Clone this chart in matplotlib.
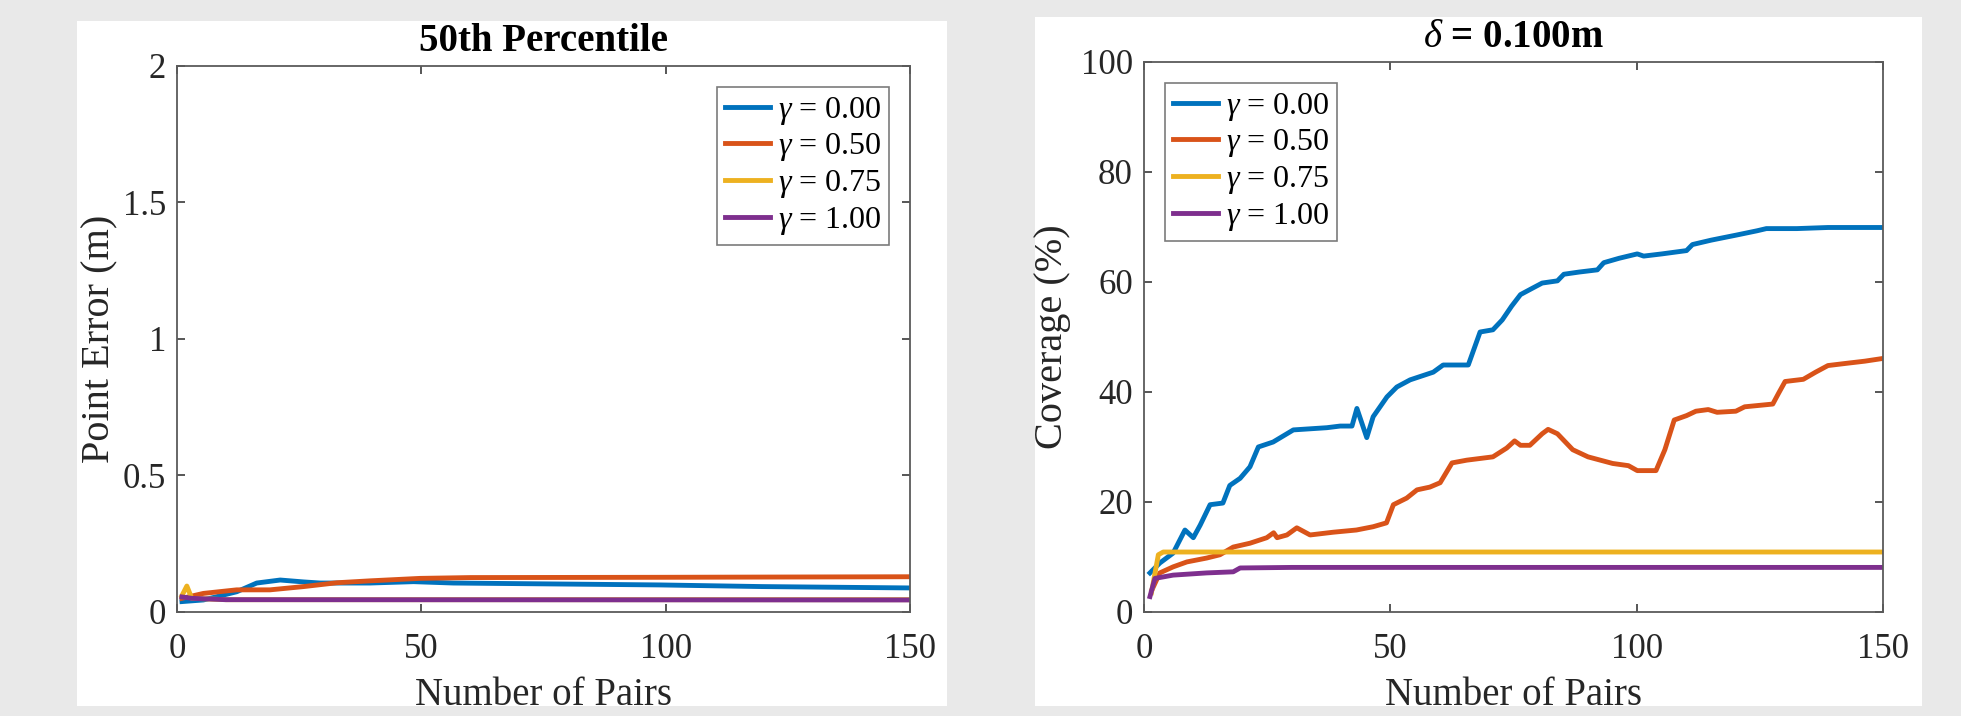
"""
Point error and coverage vs number of pairs, two panels.
"""

import matplotlib
matplotlib.use('Agg')
import matplotlib.pyplot as plt
from matplotlib.patches import Rectangle

# style
plt.rcParams['font.family'] = ['Liberation Serif', 'DejaVu Serif']
plt.rcParams['mathtext.fontset'] = 'custom'
plt.rcParams['mathtext.rm'] = 'Liberation Serif'
plt.rcParams['mathtext.it'] = 'Liberation Serif:italic'

COLORS = ['#0072BD', '#D95319', '#EDB120', '#7E2F8E']
LABELS = [r'$\gamma$ = 0.00', r'$\gamma$ = 0.50', r'$\gamma$ = 0.75', r'$\gamma$ = 1.00']
LW = 3.5

# left panel: 50th percentile point error (m)
err_x0 = [1, 5.4, 12.2, 16.3, 21.1, 25.9, 29.3, 39.5, 48.4, 56.5, 98.8, 119.7, 150]
err_y0 = [0.038, 0.044, 0.074, 0.106, 0.117, 0.110, 0.106, 0.106, 0.111, 0.106, 0.099, 0.093, 0.088]
err_x1 = [1, 5.4, 12.2, 19, 25.9, 32.7, 39.5, 49.7, 60, 98.8, 150]
err_y1 = [0.050, 0.068, 0.081, 0.081, 0.093, 0.107, 0.114, 0.123, 0.126, 0.127, 0.129]
err_x2 = [1, 2, 3, 10, 150]
err_y2 = [0.060, 0.095, 0.050, 0.045, 0.045]
err_x3 = [1, 3, 10, 150]
err_y3 = [0.055, 0.050, 0.045, 0.044]

# right panel: coverage (%) for delta = 0.100m
cov_x0 = [1.2, 3.2, 5.9, 8.3, 10, 11.4, 13.4, 16, 17.4, 19.5, 21.5, 23.2, 26.2, 30.3,
          37.1, 39.8, 42.2, 43.2, 45.2, 46.5, 49.3, 51.3, 54, 58.7, 60.7, 65.8, 68.2,
          70.8, 72.7, 74.6, 76.4, 78.9, 80.8, 83.9, 85.2, 88.3, 92, 93.3, 96.4, 100.1,
          101.4, 105.1, 110.1, 111.3, 115.1, 120.1, 124.4, 126.3, 132.5, 138.8, 150]
cov_y0 = [7.1, 8.9, 10.7, 14.9, 13.5, 15.8, 19.5, 19.8, 23.0, 24.3, 26.4, 30.0, 30.9, 33.1,
          33.5, 33.8, 33.8, 37.0, 31.7, 35.5, 39.1, 40.9, 42.2, 43.6, 44.9, 44.9, 50.9,
          51.3, 53.1, 55.6, 57.7, 58.9, 59.8, 60.2, 61.4, 61.8, 62.2, 63.5, 64.3, 65.1,
          64.7, 65.1, 65.7, 66.8, 67.6, 68.5, 69.3, 69.7, 69.7, 69.9, 69.9]
cov_x1 = [1.6, 3.2, 5.9, 8.7, 12.7, 15.4, 18.1, 21.5, 24.9, 26.3, 27, 29, 31, 33.7, 38.4,
          43.1, 46.5, 49.2, 50.6, 53.3, 55.4, 58, 60.1, 62.5, 65.5, 70.8, 73.6, 75.2,
          76.4, 78.3, 80.8, 82, 83.9, 87, 90.1, 95.1, 98.3, 100.1, 103.9, 105.7, 107.6,
          110.1, 112, 114.5, 116.3, 120.1, 121.9, 127.6, 128.8, 130.1, 133.8, 136.3,
          138.8, 142.5, 146.3, 150]
cov_y1 = [4.0, 7.1, 8.2, 9.1, 9.8, 10.4, 11.8, 12.5, 13.5, 14.4, 13.5, 14.0, 15.3, 14.0, 14.5,
          14.9, 15.5, 16.2, 19.5, 20.7, 22.2, 22.7, 23.5, 27.1, 27.6, 28.2, 29.8, 31.1,
          30.3, 30.3, 32.4, 33.2, 32.4, 29.5, 28.2, 27.0, 26.6, 25.7, 25.7, 29.5, 34.9,
          35.7, 36.5, 36.8, 36.3, 36.5, 37.3, 37.8, 39.8, 41.9, 42.3, 43.6, 44.8, 45.2,
          45.6, 46.1]
cov_x2 = [1.5, 2.9, 3.9, 150]
cov_y2 = [3.5, 10.4, 10.9, 10.9]
cov_x3 = [1.2, 2.2, 5.9, 12.7, 18.1, 19.5, 30, 150]
cov_y3 = [2.8, 6.1, 6.7, 7.1, 7.3, 8.0, 8.1, 8.1]


def style_axes(ax):
    for s in ax.spines.values():
        s.set_color('#5a5a5a')
        s.set_linewidth(1.3)
    ax.tick_params(direction='in', length=6, width=1.2, color='#3a3a3a',
                   top=True, right=True, labelsize=25, labelcolor='#262626')
    ax.tick_params(axis='x', pad=15)
    ax.tick_params(axis='y', pad=8)


def add_legend(ax, loc):
    ax.legend(loc=loc, fontsize=23, frameon=True, fancybox=False, edgecolor='#5a5a5a',
              handlelength=1.4, handletextpad=0.25, labelspacing=0.15,
              borderaxespad=0.65, borderpad=0.25)
    ax.get_legend().get_frame().set_linewidth(1.2)


fig = plt.figure(figsize=(19.61, 7.16), dpi=100)
fig.patch.set_facecolor('#e9e9e9')
fig.patches.append(Rectangle((0.0393, 0.0140), 0.4437, 0.9567, transform=fig.transFigure,
                             facecolor='white', edgecolor='none', zorder=-1))
fig.patches.append(Rectangle((0.5278, 0.0140), 0.4523, 0.9623, transform=fig.transFigure,
                             facecolor='white', edgecolor='none', zorder=-1))

# left panel
ax1 = fig.add_axes([0.0903, 0.1453, 0.3738, 0.7626])
for x, y, c, lab in zip([err_x0, err_x1, err_x2, err_x3], [err_y0, err_y1, err_y2, err_y3],
                        COLORS, LABELS):
    ax1.plot(x, y, color=c, linewidth=LW, label=lab)
ax1.set_xlim(0, 150)
ax1.set_ylim(0, 2)
ax1.set_xticks([0, 50, 100, 150])
ax1.set_yticks([0, 0.5, 1, 1.5, 2])
ax1.set_yticklabels(['0', '0.5', '1', '1.5', '2'])
ax1.set_xlabel('Number of Pairs', fontsize=28, color='#262626', labelpad=8)
ax1.set_ylabel('Point Error (m)', fontsize=29, color='#262626', labelpad=3)
ax1.set_title('50th Percentile', fontsize=28, fontweight='bold', pad=11)
style_axes(ax1)
add_legend(ax1, 'upper right')

# right panel
ax2 = fig.add_axes([0.5834, 0.1453, 0.3769, 0.7682])
for x, y, c, lab in zip([cov_x0, cov_x1, cov_x2, cov_x3], [cov_y0, cov_y1, cov_y2, cov_y3],
                        COLORS, LABELS):
    ax2.plot(x, y, color=c, linewidth=LW, label=lab)
ax2.set_xlim(0, 150)
ax2.set_ylim(0, 100)
ax2.set_xticks([0, 50, 100, 150])
ax2.set_yticks([0, 20, 40, 60, 80, 100])
ax2.set_xlabel('Number of Pairs', fontsize=28, color='#262626', labelpad=8)
ax2.set_ylabel('Coverage (%)', fontsize=29, color='#262626', labelpad=7)
ax2.set_title(r'$\delta$ = 0.100m', fontsize=28, fontweight='bold', pad=11)
style_axes(ax2)
add_legend(ax2, 'upper left')

# grey strip clipping the bottom of the panels
fig.patches.append(Rectangle((0, 0), 1, 0.0140, transform=fig.transFigure,
                             facecolor='#e9e9e9', edgecolor='none', zorder=10))

fig.savefig('out.png', dpi=100, facecolor=fig.get_facecolor())
